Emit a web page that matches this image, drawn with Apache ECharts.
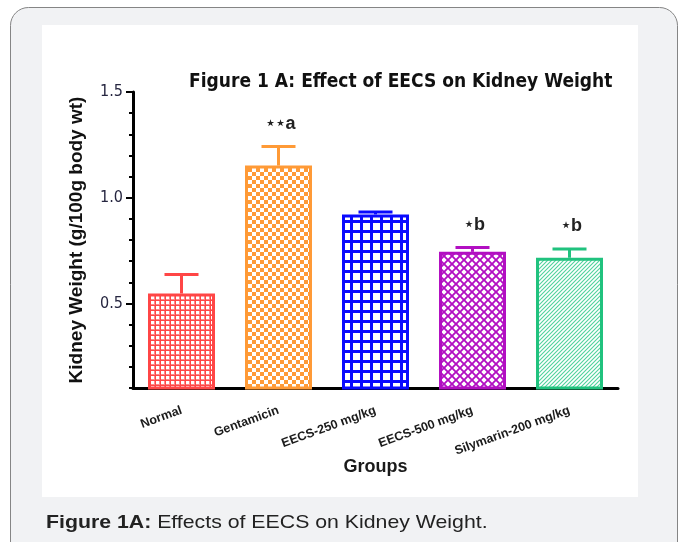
<!DOCTYPE html>
<html>
<head>
<meta charset="utf-8">
<script src="https://cdn.jsdelivr.net/npm/echarts@6/dist/echarts.min.js"></script>
<style>
  html, body { margin: 0; padding: 0; background: #ffffff; }
  #chart { width: 685px; height: 542px; }
</style>
</head>
<body>
<div id="chart"></div>
<script>
// Kidney weight per treatment group (g/100g body wt), mean and SEM
const groups = ['Normal', 'Gentamicin', 'EECS-250 mg/kg', 'EECS-500 mg/kg', 'Silymarin-200 mg/kg'];
const means = [0.547, 1.152, 0.921, 0.744, 0.716];
const sems = [0.090, 0.090, 0.012, 0.020, 0.042];
const marks = ['', '**a', '', '*b', '*b'];
const yMajorTicks = [0.5, 1.0, 1.5];

const barColors = ['#ff4646', '#ff9a36', '#0a0aff', '#b20fc2', '#20c27e'];

function tile(w, h, draw) {
  const c = document.createElement('canvas');
  c.width = w; c.height = h;
  draw(c.getContext('2d'));
  return c;
}

// Fill textures for each bar
const fills = [
  tile(5, 5, g => {
    g.fillStyle = '#ff8a8a'; g.fillRect(0, 0, 5, 5);
    g.fillStyle = barColors[0]; g.fillRect(0, 0, 5, 1); g.fillRect(0, 0, 1, 5);
    g.fillStyle = '#fff'; g.fillRect(1, 1, 3, 3);
  }),
  tile(8, 8, g => { g.fillStyle = '#fff'; g.fillRect(0, 0, 8, 8); g.fillStyle = barColors[1]; g.fillRect(0, 0, 4, 4); g.fillRect(4, 4, 4, 4); }),
  tile(10, 10, g => { g.fillStyle = '#fff'; g.fillRect(0, 0, 10, 10); g.fillStyle = barColors[2]; g.fillRect(0, 0, 3, 10); g.fillRect(0, 0, 10, 3); }),
  tile(8, 8, g => {
    g.fillStyle = barColors[3]; g.fillRect(0, 0, 8, 8);
    g.fillStyle = '#fff';
    const dia = (cx, cy, r) => { g.beginPath(); g.moveTo(cx, cy - r); g.lineTo(cx + r, cy); g.lineTo(cx, cy + r); g.lineTo(cx - r, cy); g.closePath(); g.fill(); };
    dia(4, 4, 2.7); dia(0, 0, 2.7); dia(8, 0, 2.7); dia(0, 8, 2.7); dia(8, 8, 2.7);
  }),
  tile(4, 4, g => {
    g.fillStyle = '#fff'; g.fillRect(0, 0, 4, 4);
    g.strokeStyle = '#4fd29c'; g.lineWidth = 1.1;
    g.beginPath();
    g.moveTo(0, 4); g.lineTo(4, 0);
    g.moveTo(-1, 1); g.lineTo(1, -1);
    g.moveTo(3, 5); g.lineTo(5, 3);
    g.stroke();
  })
];

const narrow = "'Liberation Sans Narrow', 'DejaVu Sans Condensed', 'Liberation Sans', sans-serif";
const sans = "'Liberation Sans', Arial, sans-serif";

const chart = echarts.init(document.getElementById('chart'), null, { renderer: 'canvas' });

chart.setOption({
  backgroundColor: '#ffffff',
  animation: false,
  title: {
    text: 'Figure 1 A: Effect of EECS on Kidney Weight',
    left: 184, top: 68,
    textStyle: { fontFamily: narrow, fontSize: 19, fontWeight: 'bold', color: '#111' }
  },
  graphic: [
    { type: 'rect', z: -10, shape: { x: 10.5, y: 7.5, width: 667, height: 600, r: 18 },
      style: { fill: '#f1f2f4', stroke: '#858585', lineWidth: 1 } },
    { type: 'rect', z: -9, shape: { x: 42, y: 25, width: 596, height: 472 },
      style: { fill: '#ffffff' } },
    { type: 'text', z: 5, x: 46, y: 513, scaleX: 1.12,
      style: {
        text: '{b|Figure 1A:} Effects of EECS on Kidney Weight.',
        fontFamily: sans, fontSize: 19, fill: '#222',
        rich: { b: { fontFamily: sans, fontSize: 19, fontWeight: 'bold', fill: '#222' } }
      } }
  ],
  grid: { left: 133, right: 67, top: 92, bottom: 154, containLabel: false },
  xAxis: {
    type: 'category',
    data: groups,
    axisLine: { lineStyle: { color: '#000', width: 3 } },
    axisTick: { alignWithLabel: true, length: 5, lineStyle: { color: '#000', width: 3 } },
    axisLabel: { rotate: 20, margin: 22, fontFamily: sans, fontSize: 12.5, fontWeight: 'bold', color: '#1a1a1a' },
    name: 'Groups',
    nameLocation: 'middle',
    nameGap: 70,
    nameMoveOverlap: false,
    nameTextStyle: { fontFamily: sans, fontSize: 18, fontWeight: 'bold', color: '#1a1a1a' }
  },
  yAxis: [
    {
      type: 'value', min: 0.1, max: 1.5, interval: 0.1,
      axisLine: { show: true, lineStyle: { color: '#000', width: 3 } },
      axisTick: { show: true, length: 4, lineStyle: { color: '#000', width: 2 } },
      axisLabel: { show: false },
      splitLine: { show: false }
    },
    {
      type: 'value', min: 0.1, max: 1.5, position: 'left', offset: 0,
      axisLine: { show: false },
      axisTick: { show: true, customValues: yMajorTicks, length: 7, lineStyle: { color: '#000', width: 2 } },
      axisLabel: { customValues: yMajorTicks, formatter: v => v.toFixed(1), margin: 10,
        fontFamily: narrow, fontSize: 16, color: '#262640' },
      splitLine: { show: false },
      name: 'Kidney Weight (g/100g body wt)',
      nameLocation: 'middle',
      nameGap: 47,
      nameTextStyle: { fontFamily: sans, fontSize: 19, fontWeight: 'bold', color: '#111' }
    }
  ],
  series: [
    {
      type: 'bar',
      yAxisIndex: 0,
      barWidth: 67,
      data: means.map((v, i) => ({
        value: v,
        itemStyle: { color: { image: fills[i], repeat: 'repeat' }, borderColor: barColors[i], borderWidth: 3 }
      }))
    },
    {
      type: 'custom',
      yAxisIndex: 0,
      z: 3,
      encode: { x: 0, y: 1 },
      data: means.map((v, i) => [i, v, sems[i]]),
      renderItem: (params, api) => {
        const i = api.value(0);
        const v = api.value(1);
        const e = api.value(2);
        const base = api.coord([i, v]);
        const top = api.coord([i, v + e]);
        const col = barColors[i];
        const hw = 17;
        const children = [
          { type: 'line', shape: { x1: top[0], y1: base[1], x2: top[0], y2: top[1] },
            style: { stroke: col, lineWidth: 3 } },
          { type: 'line', shape: { x1: top[0] - hw, y1: top[1], x2: top[0] + hw, y2: top[1] },
            style: { stroke: col, lineWidth: 3 } }
        ];
        const m = marks[i];
        if (m) {
          const stars = m.replace(/[^*]/g, '').replace(/\*/g, '\u22C6');
          const letter = m.replace(/\*/g, '');
          children.push({
            type: 'text',
            x: top[0] + 2, y: top[1] - 14,
            style: {
              text: '{s|' + stars + '}{l|' + letter + '}',
              align: 'center', verticalAlign: 'bottom',
              rich: {
                s: { fontFamily: "'DejaVu Sans', sans-serif", fontSize: 16, fontWeight: 'bold', fill: '#222' },
                l: { fontFamily: sans, fontSize: 18, fontWeight: 'bold', fill: '#222' }
              }
            }
          });
        }
        return { type: 'group', children };
      }
    }
  ]
});
</script>
</body>
</html>
